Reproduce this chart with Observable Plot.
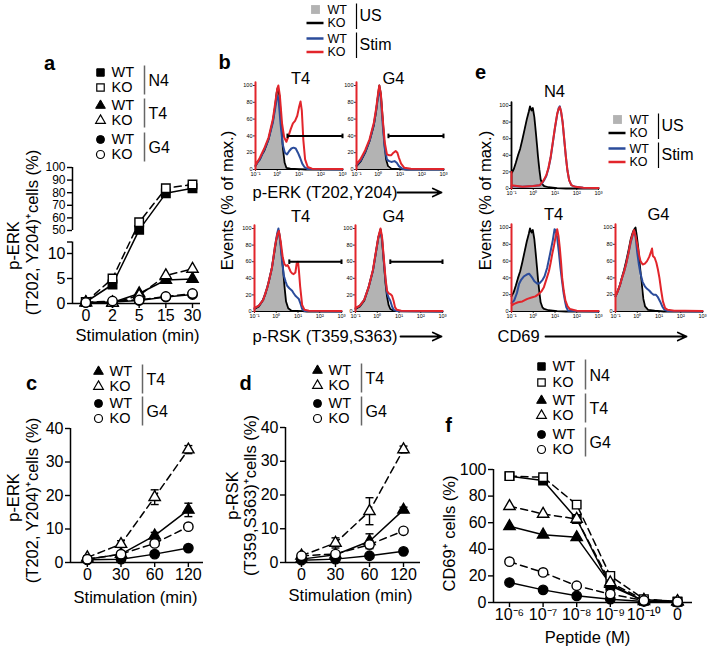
<!DOCTYPE html>
<html><head><meta charset="utf-8">
<script src="https://cdn.jsdelivr.net/npm/d3@7"></script>
<script src="https://cdn.jsdelivr.net/npm/@observablehq/plot@0.6"></script>
<style>
body{margin:0;background:#fff;}
#fig{position:relative;width:713px;height:650px;overflow:hidden;background:#fff;}
</style></head><body><div id="fig"></div>
<script>
// ---------------- DATA ----------------
// panel a: p-ERK+ (%) vs stimulation time
const aTimes = ["0","2","5","15","30"];
const aN4WT = [0.3, 3.8, 50.5, 79.5, 83.5];
const aN4KO = [0.3, 5.0, 56.5, 83.5, 86.5];
const aT4WT = [0.2, 0.2, 2.0, 4.7, 4.9];
const aT4KO = [0.2, 0.1, 1.6, 5.6, 6.9];
const aG4WT = [0.2, 0.3, 0.6, 1.3, 1.8];
const aG4KO = [0.2, 0.5, 0.7, 1.4, 2.0];
const aLowTicks = [0, 5, 10];
const aHighTicks = [50, 60, 70, 80, 90, 100];
const aBreak = [12.3, 50];

// panel c: p-ERK+ (%)
const cdTimes = ["0","30","60","120"];
const cT4WT = [1.0, 2.5, 8.0, 15.7];
const cT4WTerr = [0.3, 0.5, 1.0, 2.0];
const cT4KO = [1.5, 5.5, 19.5, 33.7];
const cT4KOerr = [0.5, 1.0, 2.2, 1.2];
const cG4WT = [0.8, 1.0, 2.5, 4.3];
const cG4KO = [1.0, 2.5, 5.7, 10.7];

// panel d: p-RSK+ (%)
const dT4WT = [1.0, 2.3, 6.3, 15.6];
const dT4WTerr = [0.3, 0.5, 2.2, 0.8];
const dT4KO = [2.0, 5.8, 15.2, 33.5];
const dT4KOerr = [0.5, 1.5, 4.0, 1.0];
const dG4WT = [0.7, 1.0, 2.0, 3.3];
const dG4KO = [2.0, 2.5, 5.3, 9.4];

// panel f: CD69+ (%) vs peptide
const fDoses = ["10⁻⁶","10⁻⁷","10⁻⁸","10⁻⁹","10⁻¹⁰","0"];
const fN4WT = [95, 91.7, 62.8, 12.6, 1.2, 0.5];
const fN4KO = [95, 94.2, 73.6, 20, 2.5, 0.8];
const fT4WT = [57.3, 51, 49, 13.8, 1, 0.5];
const fT4KO = [72.4, 66.6, 62.8, 15, 2, 1];
const fG4WT = [15, 9.5, 5, 2.5, 0.8, 0.3];
const fG4KO = [30.7, 22.6, 12.6, 6.3, 1.5, 0.5];

// histograms: [log10 intensity, % of max]
const histTicks = ["10⁻¹","10⁰","10¹","10²","10³"];
const erkT4Gray = [[-1,4],[-0.9,8],[-0.8,12],[-0.7,17],[-0.6,22],[-0.5,28],[-0.4,36],[-0.3,46],[-0.2,58],[-0.1,74],[-0.03,90],[0.02,98],[0.08,92],[0.15,68],[0.22,40],[0.3,15],[0.38,4],[0.46,0.5],[3,0]];
const erkT4Black = [[-1,4],[-0.9,9],[-0.8,12],[-0.7,18],[-0.6,22],[-0.5,29],[-0.4,36],[-0.3,47],[-0.2,58],[-0.1,75],[-0.03,91],[0.02,97],[0.1,88],[0.18,58],[0.26,25],[0.34,8],[0.42,2],[0.6,1],[1.0,0.5],[1.3,0],[3,0]];
const erkT4Blue = [[-1,5],[-0.8,12],[-0.6,23],[-0.4,36],[-0.2,56],[-0.1,72],[0,88],[0.06,84],[0.15,55],[0.25,30],[0.35,20],[0.45,18],[0.55,22],[0.65,25],[0.75,26],[0.85,25],[0.95,20],[1.05,14],[1.15,7],[1.25,3],[1.4,0.5],[3,0]];
const erkT4Red = [[-1,0],[-1,104],[-1,5],[-0.8,14],[-0.6,25],[-0.4,38],[-0.2,60],[-0.1,78],[0,96],[0.05,100],[0.12,88],[0.22,55],[0.32,38],[0.42,33],[0.52,40],[0.62,48],[0.72,55],[0.82,58],[0.92,64],[1.0,74],[1.07,81],[1.13,70],[1.2,35],[1.28,12],[1.4,3],[1.6,1],[3,0.5]];

const erkG4Gray = [[-1,4],[-0.8,10],[-0.6,20],[-0.4,33],[-0.2,52],[-0.1,68],[0,90],[0.05,98],[0.12,88],[0.2,60],[0.28,30],[0.36,10],[0.45,2],[0.6,0],[3,0]];
const erkG4Black = [[-1,4],[-0.8,10],[-0.6,20],[-0.4,34],[-0.2,53],[-0.1,69],[0,91],[0.05,100],[0.12,90],[0.2,62],[0.28,32],[0.36,12],[0.45,4],[0.6,1],[1.0,0.5],[1.3,0],[3,0]];
const erkG4Blue = [[-1,5],[-0.8,11],[-0.6,21],[-0.4,34],[-0.2,54],[-0.1,70],[0,88],[0.05,95],[0.12,85],[0.2,55],[0.3,25],[0.4,12],[0.5,10],[0.6,9],[0.75,10],[0.85,8],[0.95,4],[1.1,1],[1.3,0],[3,0]];
const erkG4Red = [[-1,0],[-1,104],[-1,6],[-0.8,13],[-0.6,23],[-0.4,36],[-0.2,56],[-0.1,72],[0,92],[0.05,100],[0.12,90],[0.2,62],[0.3,32],[0.4,18],[0.5,17],[0.6,17],[0.7,20],[0.8,22],[0.88,20],[0.95,14],[1.05,7],[1.2,2],[1.5,1],[3,0.5]];

const rskT4Gray = [[-1,3],[-0.8,6],[-0.65,11],[-0.5,20],[-0.34,35],[-0.2,52],[-0.1,68],[0,85],[0.08,96],[0.12,98],[0.2,80],[0.3,55],[0.38,35],[0.43,22],[0.5,8],[0.6,2],[0.7,0],[3,0]];
const rskT4Black = [[-1,3],[-0.8,6],[-0.65,12],[-0.5,21],[-0.34,36],[-0.2,53],[-0.1,69],[0,86],[0.08,96],[0.12,97],[0.2,82],[0.3,55],[0.38,30],[0.45,12],[0.55,4],[0.7,1],[1.2,0.5],[1.4,0],[3,0]];
const rskT4Blue = [[-1,4],[-0.8,7],[-0.6,14],[-0.4,30],[-0.2,52],[-0.05,80],[0.05,95],[0.1,100],[0.18,85],[0.27,60],[0.35,43],[0.43,36],[0.5,31],[0.6,28],[0.73,25],[0.8,22],[0.88,19],[0.96,17],[1.04,15],[1.12,9],[1.19,3],[1.3,0.5],[3,0]];
const rskT4Red = [[-1,0],[-1,104],[-1,4],[-0.8,7],[-0.6,14],[-0.4,30],[-0.2,52],[-0.05,80],[0.05,93],[0.12,97],[0.2,85],[0.3,65],[0.38,57],[0.45,55],[0.52,56],[0.58,53],[0.66,48],[0.73,46],[0.8,45],[0.88,47],[0.94,58],[1.0,60],[1.04,50],[1.1,30],[1.19,8],[1.3,2],[1.5,1],[3,0.5]];

const rskG4Gray = [[-1,3],[-0.8,6],[-0.6,13],[-0.4,28],[-0.2,48],[-0.05,72],[0.05,88],[0.15,98],[0.22,85],[0.3,60],[0.38,35],[0.45,18],[0.52,7],[0.62,2],[0.75,0],[3,0]];
const rskG4Black = [[-1,3],[-0.8,6],[-0.6,13],[-0.4,29],[-0.2,49],[-0.05,73],[0.05,89],[0.15,99],[0.22,86],[0.3,60],[0.38,34],[0.45,18],[0.52,8],[0.6,3],[0.75,1],[1.0,0.3],[3,0]];
const rskG4Blue = [[-1,4],[-0.8,7],[-0.6,14],[-0.4,29],[-0.2,49],[-0.05,73],[0.05,89],[0.15,97],[0.22,88],[0.3,62],[0.38,38],[0.45,22],[0.52,17],[0.6,13],[0.68,6],[0.76,2],[0.9,0.5],[3,0]];
const rskG4Red = [[-1,0],[-1,104],[-1,4],[-0.8,7],[-0.6,14],[-0.4,29],[-0.2,50],[-0.05,74],[0.05,90],[0.15,100],[0.22,90],[0.3,65],[0.38,40],[0.45,25],[0.52,22],[0.6,21],[0.68,19],[0.75,13],[0.82,5],[0.9,2],[1.1,1],[3,0.5]];

const cdUSGray = [[-1,18],[-0.9,22],[-0.8,30],[-0.7,40],[-0.6,47],[-0.5,58],[-0.4,70],[-0.3,82],[-0.2,92],[-0.15,99],[-0.08,93],[-0.02,96],[0.05,85],[0.11,69],[0.17,52],[0.22,37],[0.28,22],[0.34,10],[0.42,4],[0.5,2],[0.7,1],[1.1,0],[3,0]];
const cdN4Black = [[-1,0],[-1,104],[-1,18],[-0.9,23],[-0.8,31],[-0.7,40],[-0.6,48],[-0.5,59],[-0.4,71],[-0.3,83],[-0.2,93],[-0.15,99],[-0.08,94],[-0.02,97],[0.05,86],[0.11,70],[0.17,53],[0.22,38],[0.28,23],[0.34,11],[0.42,5],[0.5,3],[0.7,1.5],[1.1,0.5],[1.5,0],[3,0]];
const cdN4Blue = [[-1,3],[-0.5,2],[0,3],[0.3,4],[0.4,6],[0.5,10],[0.6,15],[0.7,24],[0.8,37],[0.9,55],[1.0,73],[1.1,89],[1.17,97],[1.22,99],[1.28,92],[1.35,80],[1.43,57],[1.5,38],[1.57,22],[1.65,10],[1.75,4],[1.93,2],[2.3,1],[3,0.5]];
const cdN4Red = [[-1,0],[-1,20],[-1,4],[-0.5,2],[0,3],[0.3,4],[0.4,7],[0.5,11],[0.6,16],[0.7,25],[0.8,38],[0.9,56],[1.0,74],[1.1,90],[1.17,96],[1.22,98],[1.28,93],[1.35,80],[1.43,58],[1.5,38],[1.57,22],[1.65,10],[1.75,4],[1.93,2],[2.3,1],[3,0.5]];
const cdT4Black = [[-1,18],[-0.9,23],[-0.8,31],[-0.7,40],[-0.6,48],[-0.5,59],[-0.4,71],[-0.3,83],[-0.2,93],[-0.15,99],[-0.08,94],[-0.02,97],[0.05,86],[0.11,70],[0.17,53],[0.22,38],[0.28,23],[0.34,11],[0.42,5],[0.5,3],[0.7,1.5],[1.1,0.5],[1.5,0],[3,0]];
const cdT4Blue = [[-1,10],[-0.88,13],[-0.75,22],[-0.65,33],[-0.55,38],[-0.42,42],[-0.3,44],[-0.19,45],[-0.1,42],[-0.04,40],[0.05,36],[0.19,33],[0.3,34],[0.41,37],[0.52,42],[0.64,52],[0.72,62],[0.8,72],[0.9,85],[0.98,98],[1.04,96],[1.1,88],[1.18,70],[1.25,52],[1.33,35],[1.4,21],[1.47,11],[1.52,5],[1.6,1],[3,0]];
const cdT4Red = [[-1,0],[-1,104],[-1,7],[-0.88,9],[-0.7,11],[-0.5,12],[-0.27,15],[-0.04,17],[0.1,18],[0.26,21],[0.38,24],[0.49,29],[0.6,38],[0.72,48],[0.8,58],[0.87,68],[0.95,78],[1.02,88],[1.1,98],[1.16,90],[1.22,76],[1.28,58],[1.33,40],[1.4,25],[1.48,13],[1.58,6],[1.68,3],[2,1],[3,0.5]];
const cdG4Gray = [[-1,20],[-0.9,25],[-0.8,32],[-0.7,40],[-0.6,50],[-0.5,60],[-0.4,72],[-0.3,85],[-0.22,92],[-0.16,98],[-0.1,95],[-0.04,85],[0.02,72],[0.1,52],[0.18,32],[0.25,18],[0.32,8],[0.4,4],[0.55,2],[0.8,0.5],[1.2,0],[3,0]];
const cdG4Black = [[-1,18],[-0.9,24],[-0.8,31],[-0.7,41],[-0.6,50],[-0.5,61],[-0.4,73],[-0.3,86],[-0.22,93],[-0.16,97],[-0.08,100],[-0.02,90],[0.05,75],[0.12,55],[0.2,35],[0.28,15],[0.36,6],[0.5,2],[0.8,1],[1.2,0],[3,0]];
const cdG4Blue = [[-1,18],[-0.9,24],[-0.8,31],[-0.7,40],[-0.6,48],[-0.5,58],[-0.4,70],[-0.3,82],[-0.2,92],[-0.15,96],[-0.08,90],[0,70],[0.08,55],[0.15,45],[0.25,35],[0.35,30],[0.45,27],[0.55,25],[0.65,22],[0.75,20],[0.85,20],[0.95,17],[1.05,12],[1.15,6],[1.25,2],[1.4,0.5],[3,0]];
const cdG4Red = [[-1,0],[-1,104],[-1,18],[-0.9,24],[-0.8,31],[-0.7,40],[-0.6,48],[-0.5,58],[-0.4,70],[-0.3,84],[-0.2,93],[-0.15,97],[-0.08,90],[0,80],[0.08,68],[0.15,60],[0.25,56],[0.35,57],[0.45,60],[0.55,65],[0.62,70],[0.68,75],[0.72,66],[0.8,64],[0.88,58],[0.95,50],[1.02,40],[1.1,25],[1.18,12],[1.28,4],[1.4,2],[1.7,1],[2.2,1],[3,0.5]];

// gates: [start (log10), level (% of max)]
const erkGate = [[0.47, 40]];
const rskGate = [[0.6, 60]];

// ---------------- STYLE / HELPERS ----------------
const FONT = "'Liberation Sans', Arial, Helvetica, sans-serif";
const BLUE = "#2b4c9b", RED = "#e2252b", GRAY = "#b3b3b3", BARGRAY = "#666";
const STYLE = {fontFamily: FONT, background: "transparent", overflow: "visible", color: "black"};
const fig = document.getElementById("fig");
function addPlot(p, left, top) {
  p.style.position = "absolute"; p.style.left = left + "px"; p.style.top = top + "px";
  p.style.maxWidth = "none";
  fig.appendChild(p);
}
const HBAR = {draw(ctx, size) { const r = Math.sqrt(size / Math.PI); ctx.moveTo(-r, 0); ctx.lineTo(r, 0); }};
const VBAR = {draw(ctx, size) { const r = Math.sqrt(size / Math.PI); ctx.moveTo(0, -r); ctx.lineTo(0, r); }};
const RSYM = {square: 4.8, circle: 4.7, triangle: 4.2};
const RLEG = {square: 4.2, circle: 4.0, triangle: 3.6};

function seriesMarks(list, conv) {
  const lines = [], errs = [], filled = [], open = [];
  for (const s of list) {
    const data = s.v.map((v, i) => ({i, y: conv(v),
      lo: s.e ? conv(v - s.e[i]) : null, hi: s.e ? conv(v + s.e[i]) : null}));
    lines.push(Plot.line(data, {x: "i", y: "y", stroke: "black", strokeWidth: 1.5,
      strokeDasharray: s.ko ? "7,4.5" : null}));
    if (s.e) {
      errs.push(Plot.ruleX(data, {x: "i", y1: "lo", y2: "hi", stroke: "black", strokeWidth: 1.4}));
      errs.push(Plot.dot(data, {x: "i", y: "hi", symbol: HBAR, r: 4, fill: "none", stroke: "black", strokeWidth: 1.4}));
      errs.push(Plot.dot(data, {x: "i", y: "lo", symbol: HBAR, r: 4, fill: "none", stroke: "black", strokeWidth: 1.4}));
    }
    (s.ko ? open : filled).push(Plot.dot(data, {x: "i", y: "y", symbol: s.sym, r: RSYM[s.sym],
      fill: s.ko ? "white" : "black", stroke: "black", strokeWidth: 1.4}));
  }
  return [...lines, ...errs, ...filled, ...open];
}

// ---------------- PANEL a (broken y axis) ----------------
const aDisp = v => v <= aBreak[0] ? v : 14.6 + (v - aBreak[1]) * 0.252;
const aTickMap = new Map([...aLowTicks, ...aHighTicks].map(v => [aDisp(v), String(v)]));
addPlot(Plot.plot({
  width: 215, height: 200, marginLeft: 72, marginRight: 15, marginTop: 17, marginBottom: 47,
  style: STYLE,
  x: {domain: [-0.5, 4.3], axis: null}, y: {domain: [0, aDisp(100)], axis: null},
  marks: [
    Plot.ruleY([0], {strokeWidth: 1.5}),
    Plot.ruleX([{x: -0.5, y1: 0, y2: aDisp(aBreak[0])}, {x: -0.5, y1: aDisp(aBreak[1]), y2: aDisp(100)}],
      {x: "x", y1: "y1", y2: "y2", strokeWidth: 1.5}),
    Plot.axisY({ticks: [...aLowTicks.map(aDisp), aDisp(aBreak[0])], tickFormat: d => aTickMap.get(d) || "",
      tickSize: 5, tickPadding: 2, fontSize: 16, strokeWidth: 1.4, label: null}),
    Plot.axisY({ticks: aHighTicks.map(aDisp), tickFormat: d => aTickMap.get(d) || "",
      tickSize: 5, tickPadding: 2, fontSize: 12, strokeWidth: 1.4, label: null}),
    Plot.axisX({ticks: [0,1,2,3,4], tickFormat: i => aTimes[i], tickSize: 5, tickPadding: 1,
      fontSize: 16, strokeWidth: 1.4, label: null}),
    ...seriesMarks([
      {v: aN4WT, sym: "square"}, {v: aN4KO, sym: "square", ko: true},
      {v: aT4WT, sym: "triangle"}, {v: aT4KO, sym: "triangle", ko: true},
      {v: aG4WT, sym: "circle"}, {v: aG4KO, sym: "circle", ko: true}
    ], aDisp)
  ]
}), 0, 150);

// ---------------- PANELS c, d ----------------
function cdPanel(series, left, top, width, mr, xdom, mt) {
  return addPlot(Plot.plot({
    width, height: 230, marginLeft: 70, marginRight: mr, marginTop: mt, marginBottom: 48,
    style: STYLE,
    x: {domain: xdom, axis: null}, y: {domain: [0, 40], axis: null},
    marks: [
      Plot.ruleY([0], {strokeWidth: 1.5}),
      Plot.ruleX([xdom[0]], {strokeWidth: 1.5}),
      Plot.axisY({ticks: [0,10,20,30,40], tickSize: 5, tickPadding: 2, fontSize: 16, strokeWidth: 1.4, label: null}),
      Plot.axisX({ticks: [0,1,2,3], tickFormat: i => cdTimes[i], tickSize: 5, tickPadding: 1, fontSize: 16, strokeWidth: 1.4, label: null}),
      ...seriesMarks(series, v => v)
    ]
  }), left, top);
}
cdPanel([
  {v: cT4WT, e: cT4WTerr, sym: "triangle"}, {v: cT4KO, e: cT4KOerr, sym: "triangle", ko: true},
  {v: cG4WT, sym: "circle"}, {v: cG4KO, sym: "circle", ko: true}
], 0, 380, 215, 12, [-0.5, 3.45], 48);
cdPanel([
  {v: dT4WT, e: dT4WTerr, sym: "triangle"}, {v: dT4KO, e: dT4KOerr, sym: "triangle", ko: true},
  {v: dG4WT, sym: "circle"}, {v: dG4KO, sym: "circle", ko: true}
], 215, 380, 225, 20, [-0.47, 3.5], 47);

// ---------------- PANEL f ----------------
addPlot(Plot.plot({
  width: 273, height: 210, marginLeft: 53, marginRight: 21, marginTop: 29, marginBottom: 48,
  style: STYLE,
  x: {domain: [-0.476, 5.446], axis: null}, y: {domain: [0, 100], axis: null},
  marks: [
    Plot.ruleY([0], {strokeWidth: 1.5}),
    Plot.ruleX([-0.476], {strokeWidth: 1.5}),
    Plot.axisY({ticks: [0,20,40,60,80,100], tickSize: 5, tickPadding: 2, fontSize: 16, strokeWidth: 1.4, label: null}),
    Plot.axisX({ticks: [0,1,2,3,4,5], tickFormat: i => fDoses[i], tickSize: 5, tickPadding: 1, fontSize: 16, strokeWidth: 1.4, label: null}),
    ...seriesMarks([
      {v: fN4WT, sym: "square"}, {v: fN4KO, sym: "square", ko: true},
      {v: fT4WT, sym: "triangle"}, {v: fT4KO, sym: "triangle", ko: true},
      {v: fG4WT, sym: "circle"}, {v: fG4KO, sym: "circle", ko: true}
    ], v => v)
  ]
}), 440, 440);

// ---------------- HISTOGRAMS ----------------
function histo(c, gate, L, T, W, H) {
  const ml = 30, mt = 10, mr = 10, mb = 14;
  const X = d => d[0], Y = d => d[1];
  const marks = [
    Plot.areaY(c.gray, {x: X, y: Y, fill: GRAY}),
    Plot.ruleY([0], {strokeWidth: 1}),
    Plot.ruleX([-1], {strokeWidth: 1}),
    Plot.axisY({ticks: [0,20,40,60,80,100], tickSize: 2, tickPadding: 1, fontSize: 5.5, strokeWidth: 0.8, label: null}),
    Plot.axisX({ticks: [-1,0,1,2,3], tickFormat: d => histTicks[d + 1], tickSize: 2, tickPadding: 1, fontSize: 5.5, strokeWidth: 0.8, label: null}),
    Plot.line(c.black, {x: X, y: Y, stroke: "black", strokeWidth: 1.8}),
    Plot.line(c.blue, {x: X, y: Y, stroke: BLUE, strokeWidth: 2}),
    Plot.line(c.red, {x: X, y: Y, stroke: RED, strokeWidth: 2})
  ];
  if (gate) {
    marks.push(Plot.link(gate, {x1: X, x2: () => 3, y1: Y, y2: Y, stroke: "black", strokeWidth: 2}));
    marks.push(Plot.dot(gate, {x: X, y: Y, symbol: VBAR, r: 2.3, fill: "none", stroke: "black", strokeWidth: 2}));
    marks.push(Plot.dot(gate, {x: () => 3, y: Y, symbol: VBAR, r: 2.3, fill: "none", stroke: "black", strokeWidth: 2}));
  }
  addPlot(Plot.plot({
    width: W + ml + mr, height: H + mt + mb, marginLeft: ml, marginRight: mr, marginTop: mt, marginBottom: mb,
    style: STYLE, x: {domain: [-1, 3], axis: null}, y: {domain: [0, 100], axis: null}, marks
  }), L - ml, T - mt);
}
histo({gray: erkT4Gray, black: erkT4Black, blue: erkT4Blue, red: erkT4Red}, erkGate, 255, 85, 87, 84);
histo({gray: erkG4Gray, black: erkG4Black, blue: erkG4Blue, red: erkG4Red}, erkGate, 356, 85, 87, 84);
histo({gray: rskT4Gray, black: rskT4Black, blue: rskT4Blue, red: rskT4Red}, rskGate, 254, 228, 87, 83);
histo({gray: rskG4Gray, black: rskG4Black, blue: rskG4Blue, red: rskG4Red}, rskGate, 355, 228, 87, 83);
histo({gray: cdUSGray, black: cdN4Black, blue: cdN4Blue, red: cdN4Red}, null, 511, 105, 87, 83);
histo({gray: cdUSGray, black: cdT4Black, blue: cdT4Blue, red: cdT4Red}, null, 511, 227, 87, 84);
histo({gray: cdG4Gray, black: cdG4Black, blue: cdG4Blue, red: cdG4Red}, null, 615, 227, 87, 84);

// ---------------- OVERLAY: letters, titles, legends, labels ----------------
function legendMarks(x0, yWT, yKO, sym, label) {
  const fs = 14.5;
  return [
    Plot.dot([{x: x0, y: yWT}], {x: "x", y: "y", symbol: sym, r: RLEG[sym], fill: "black", stroke: "black", strokeWidth: 1}),
    Plot.dot([{x: x0, y: yKO}], {x: "x", y: "y", symbol: sym, r: RLEG[sym], fill: "white", stroke: "black", strokeWidth: 1.2}),
    Plot.text([{x: x0 + 11, y: yWT, t: "WT"}, {x: x0 + 11, y: yKO, t: "KO"}], {x: "x", y: "y", text: "t", textAnchor: "start", fontSize: fs}),
    Plot.link([{x: x0 + 44, y1: yWT - 7, y2: yKO + 7}], {x1: "x", x2: "x", y1: "y1", y2: "y2", stroke: BARGRAY, strokeWidth: 1.5}),
    Plot.text([{x: x0 + 48, y: (yWT + yKO) / 2 + 1, t: label}], {x: "x", y: "y", text: "t", textAnchor: "start", fontSize: 16})
  ];
}
function flowLegend(x0, y0, fs) {
  // x0: left of line swatch; y0: WT(US) row; rows 13.5 px apart
  const r = [y0, y0 + 13.5, y0 + 29, y0 + 42.5];
  return [
    Plot.dot([{x: x0 + 9, y: r[0]}], {x: "x", y: "y", symbol: "square", r: 5, fill: GRAY}),
    Plot.link([{x1: x0, x2: x0 + 17, y: r[1], c: "black"}, {x1: x0, x2: x0 + 17, y: r[2], c: BLUE}, {x1: x0, x2: x0 + 17, y: r[3], c: RED}],
      {x1: "x1", x2: "x2", y1: "y", y2: "y", stroke: "c", strokeWidth: 2.5}),
    Plot.text([{x: x0 + 21, y: r[0], t: "WT"}, {x: x0 + 21, y: r[1], t: "KO"}, {x: x0 + 21, y: r[2], t: "WT"}, {x: x0 + 21, y: r[3], t: "KO"}],
      {x: "x", y: "y", text: "t", textAnchor: "start", fontSize: fs}),
    Plot.link([{x: x0 + 50, y1: r[0] - 6, y2: r[1] + 6}, {x: x0 + 50, y1: r[2] - 6, y2: r[3] + 6}],
      {x1: "x", x2: "x", y1: "y1", y2: "y2", stroke: "black", strokeWidth: 1.2}),
    Plot.text([{x: x0 + 53, y: (r[0] + r[1]) / 2, t: "US"}, {x: x0 + 53, y: (r[2] + r[3]) / 2, t: "Stim"}],
      {x: "x", y: "y", text: "t", textAnchor: "start", fontSize: 16})
  ];
}
const letters = [{x: 49, y: 63, t: "a"}, {x: 224, y: 62, t: "b"}, {x: 31, y: 383, t: "c"},
  {x: 245, y: 383, t: "d"}, {x: 480, y: 72, t: "e"}, {x: 448, y: 425, t: "f"}];
const titles = [{x: 300, y: 78, t: "T4"}, {x: 393, y: 78, t: "G4"}, {x: 300, y: 216, t: "T4"}, {x: 393, y: 216, t: "G4"},
  {x: 554, y: 91, t: "N4"}, {x: 553, y: 214, t: "T4"}, {x: 658, y: 214, t: "G4"},
  {x: 137, y: 335, t: "Stimulation (min)"}, {x: 135, y: 597, t: "Stimulation (min)"},
  {x: 350, y: 595, t: "Stimulation (min)"}, {x: 587, y: 637, t: "Peptide (M)"}];
const startLabels = [{x: 252, y: 192, t: "p-ERK (T202,Y204)"}, {x: 252, y: 336, t: "p-RSK (T359,S363)"}, {x: 497, y: 336, t: "CD69"}];
const vLabels = [{x: 13, y: 245, t: "p-ERK"}, {x: 32, y: 232, t: "(T202, Y204)⁺cells (%)"},
  {x: 13, y: 497, t: "p-ERK"}, {x: 32, y: 500, t: "(T202, Y204)⁺cells (%)"},
  {x: 232, y: 495, t: "p-RSK"}, {x: 250, y: 495, t: "(T359,S363)⁺cells (%)"},
  {x: 227, y: 200, t: "Events (% of max.)"}, {x: 485, y: 200, t: "Events (% of max.)"},
  {x: 449, y: 533, t: "CD69⁺ cells (%)"}];
const arrows = [{x1: 397, x2: 441, y: 192}, {x1: 400, x2: 441, y: 336}, {x1: 545, x2: 686, y: 336}];

addPlot(Plot.plot({
  width: 713, height: 650, margin: 0, style: STYLE,
  x: {type: "identity", axis: null}, y: {type: "identity", axis: null},
  marks: [
    Plot.text(letters, {x: "x", y: "y", text: "t", fontSize: 20, fontWeight: "bold"}),
    Plot.text(titles, {x: "x", y: "y", text: "t", fontSize: 16.5}),
    Plot.text(startLabels, {x: "x", y: "y", text: "t", fontSize: 16.5, textAnchor: "start"}),
    Plot.text(vLabels, {x: "x", y: "y", text: "t", fontSize: 16.5, rotate: -90}),
    Plot.arrow(arrows, {x1: "x1", x2: "x2", y1: "y", y2: "y", strokeWidth: 1.8, headLength: 8, headAngle: 50}),
    ...legendMarks(100, 72, 87, "square", "N4"),
    ...legendMarks(100, 105, 120, "triangle", "T4"),
    ...legendMarks(100, 139, 154, "circle", "G4"),
    ...legendMarks(98, 371, 386, "triangle", "T4"),
    ...legendMarks(98, 403, 418, "circle", "G4"),
    ...legendMarks(317, 370, 385, "triangle", "T4"),
    ...legendMarks(317, 403, 418, "circle", "G4"),
    ...legendMarks(541, 366, 382, "square", "N4"),
    ...legendMarks(541, 400, 415, "triangle", "T4"),
    ...legendMarks(541, 434, 449, "circle", "G4"),
    ...flowLegend(306, 9, 12.5),
    ...flowLegend(608, 119, 12.5)
  ]
}), 0, 0);
</script></body></html>
